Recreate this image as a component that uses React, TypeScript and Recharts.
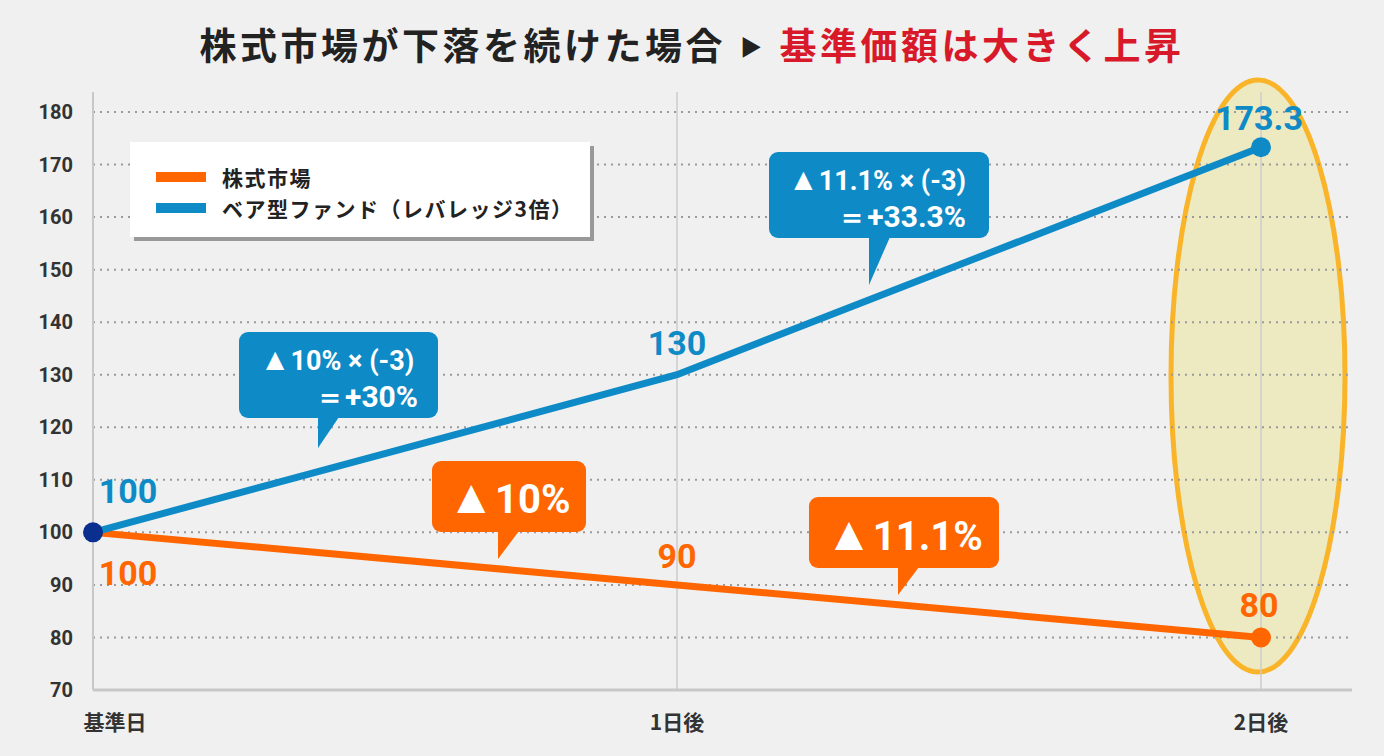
import { LineChart, Line, XAxis, YAxis, ReferenceLine, LabelList } from 'recharts';

const days = ['基準日', '1日後', '2日後'];
const marketValues = [100, 90, 80];
const bearValues = [100, 130, 173.3];
const yTicks = [70, 80, 90, 100, 110, 120, 130, 140, 150, 160, 170, 180];
const seriesNames = ['株式市場', 'ベア型ファンド（レバレッジ3倍）'];

const ORANGE = '#ff6600';
const BLUE = '#0e8bc6';
const NAVY = '#0a2f8f';
const NUM_FONT = 'Roboto, "Noto Sans", sans-serif';
const JP_FONT = '"Noto Sans CJK JP", "Noto Sans", sans-serif';

const data = days.map((day, i) => ({ day, market: marketValues[i], bear: bearValues[i] }));

// label offsets from each point (dx, dy to baseline)
const bearLabelPos = [[35, -29], [0, -20], [-2, -17]];
const marketLabelPos = [[35, 53], [0, -17], [-2, -20]];

function makeLabel(color: string, pos: number[][]) {
  return (props: any) => {
    const { x, y, value, index } = props;
    const [dx, dy] = pos[index];
    return (
      <text x={x + dx} y={y + dy} textAnchor="middle" fill={color}
        style={{ fontFamily: NUM_FONT, fontWeight: 700, fontSize: 34 }}>
        {value}
      </text>
    );
  };
}

const bearDot = (props: any) => {
  const { cx, cy, index } = props;
  if (index === 1) return <g key={`bd-${index}`} />;
  return <circle key={`bd-${index}`} cx={cx} cy={cy} r={10} fill={index === 0 ? NAVY : BLUE} />;
};

const marketDot = (props: any) => {
  const { cx, cy, index } = props;
  if (index !== 2) return <g key={`md-${index}`} />;
  return <circle key={`md-${index}`} cx={cx} cy={cy} r={10} fill={ORANGE} />;
};

const XTick = (props: any) => {
  const { x, y, payload, index } = props;
  return (
    <text x={x + (index === 0 ? 22 : 0)} y={y + 38} textAnchor="middle" fill="#333"
      style={{ fontFamily: JP_FONT, fontWeight: 700, fontSize: 21 }}>
      {payload.value}
    </text>
  );
};

function Callout({ x, y, w, h, tailX, tipX, tipY, color, children }: any) {
  return (
    <g>
      <rect x={x} y={y} width={w} height={h} rx={9} fill={color} />
      <polygon points={`${tailX},${y + h - 1} ${tailX + 21},${y + h - 1} ${tipX},${tipY}`} fill={color} />
      {children}
    </g>
  );
}

const calloutText = { fontFamily: NUM_FONT, fontWeight: 700, fill: '#fff' } as const;

export default function App() {
  return (
    <div style={{ position: 'absolute', left: 0, top: 0, width: 1384, height: 756, background: '#f0f0f0', overflow: 'hidden' }}>
      <div style={{
        position: 'absolute', top: 19, left: 0, width: 1384, textAlign: 'center',
        fontFamily: JP_FONT, fontWeight: 700, fontSize: 37, letterSpacing: 3.5, lineHeight: '50px', color: '#222',
      }}>
        株式市場が下落を続けた場合
        <span style={{ fontSize: 22, margin: '0 14px', verticalAlign: 5 }}>▶</span>
        <span style={{ color: '#d7192a' }}>基準価額は大きく上昇</span>
      </div>

      <svg width={1384} height={756} style={{ position: 'absolute', left: 0, top: 0 }}>
        <ellipse cx={1258} cy={376} rx={87} ry={296} fill="#ede9c1" stroke="#f9b429" strokeWidth={5} />
      </svg>

      <div style={{ position: 'absolute', left: 0, top: 0 }}>
        <LineChart width={1384} height={756} data={data} margin={{ top: 92, right: 32, left: 33, bottom: 26 }}>
          {yTicks.filter((t) => t > 70).map((t) => (
            <ReferenceLine key={`h-${t}`} y={t} stroke="#9a9a9a" strokeWidth={2} strokeDasharray="2 5" />
          ))}
          {days.slice(1).map((d) => (
            <ReferenceLine key={`v-${d}`} x={d} stroke="#cccccc" strokeWidth={1.5} />
          ))}
          <XAxis dataKey="day" type="category" padding={{ left: 0, right: 91 }} height={40}
            axisLine={{ stroke: '#c8c8c8', strokeWidth: 3 }} tickLine={false} tickSize={0} tick={<XTick />} />
          <YAxis domain={[70, 180]} ticks={yTicks} padding={{ top: 20, bottom: 0 }} width={60}
            axisLine={{ stroke: '#c8c8c8', strokeWidth: 2 }} tickLine={false} tickSize={0} tickMargin={20}
            tick={{ fill: '#333', fontSize: 20, fontWeight: 700, fontFamily: NUM_FONT }} />
          <Line type="linear" dataKey="market" name={seriesNames[0]} stroke={ORANGE} strokeWidth={7}
            dot={marketDot} activeDot={false} isAnimationActive={false}>
            <LabelList dataKey="market" content={makeLabel(ORANGE, marketLabelPos)} />
          </Line>
          <Line type="linear" dataKey="bear" name={seriesNames[1]} stroke={BLUE} strokeWidth={7}
            dot={bearDot} activeDot={false} isAnimationActive={false}>
            <LabelList dataKey="bear" content={makeLabel(BLUE, bearLabelPos)} />
          </Line>
        </LineChart>
      </div>

      <svg width={1384} height={756} style={{ position: 'absolute', left: 0, top: 0, pointerEvents: 'none' }}>
        <Callout x={239} y={332} w={199} h={86} tailX={318} tipX={318} tipY={448} color={BLUE}>
          <text x={337} y={370} textAnchor="middle" style={{ ...calloutText, fontSize: 27 }}>
            <tspan style={{ fontSize: 31 }}>▲</tspan>10% × (-3)
          </text>
          <text x={418} y={407} textAnchor="end" style={{ ...calloutText, fontSize: 30 }}>＝+30%</text>
        </Callout>
        <Callout x={769} y={152} w={220} h={86} tailX={869} tipX={869} tipY={285} color={BLUE}>
          <text x={877} y={190} textAnchor="middle" style={{ ...calloutText, fontSize: 27 }}>
            <tspan style={{ fontSize: 31 }}>▲</tspan>11.1% × (-3)
          </text>
          <text x={966} y={227} textAnchor="end" style={{ ...calloutText, fontSize: 30 }}>＝+33.3%</text>
        </Callout>
        <Callout x={432} y={461} w={154} h={71} tailX={498} tipX={498} tipY={559} color={ORANGE}>
          <text x={509} y={513} textAnchor="middle" style={{ ...calloutText, fontSize: 40 }}>
            <tspan style={{ fontSize: 48 }}>▲</tspan>10%
          </text>
        </Callout>
        <Callout x={809} y={497} w={190} h={71} tailX={898} tipX={898} tipY={595} color={ORANGE}>
          <text x={904} y={550} textAnchor="middle" style={{ ...calloutText, fontSize: 40 }}>
            <tspan style={{ fontSize: 48 }}>▲</tspan>11.1%
          </text>
        </Callout>
      </svg>

      <div style={{
        position: 'absolute', left: 130, top: 142, width: 460, height: 95, background: '#fff',
        boxShadow: '4px 4px 0 #999', boxSizing: 'border-box', padding: '19px 0 0 26px',
        fontFamily: JP_FONT, fontWeight: 700, fontSize: 21, color: '#222', letterSpacing: 1.5,
      }}>
        {seriesNames.map((name, i) => (
          <div key={name} style={{ display: 'flex', alignItems: 'center', height: 31 }}>
            <span style={{ display: 'inline-block', width: 50, height: 10, background: i === 0 ? ORANGE : BLUE, marginRight: 16 }} />
            {name}
          </div>
        ))}
      </div>
    </div>
  );
}
